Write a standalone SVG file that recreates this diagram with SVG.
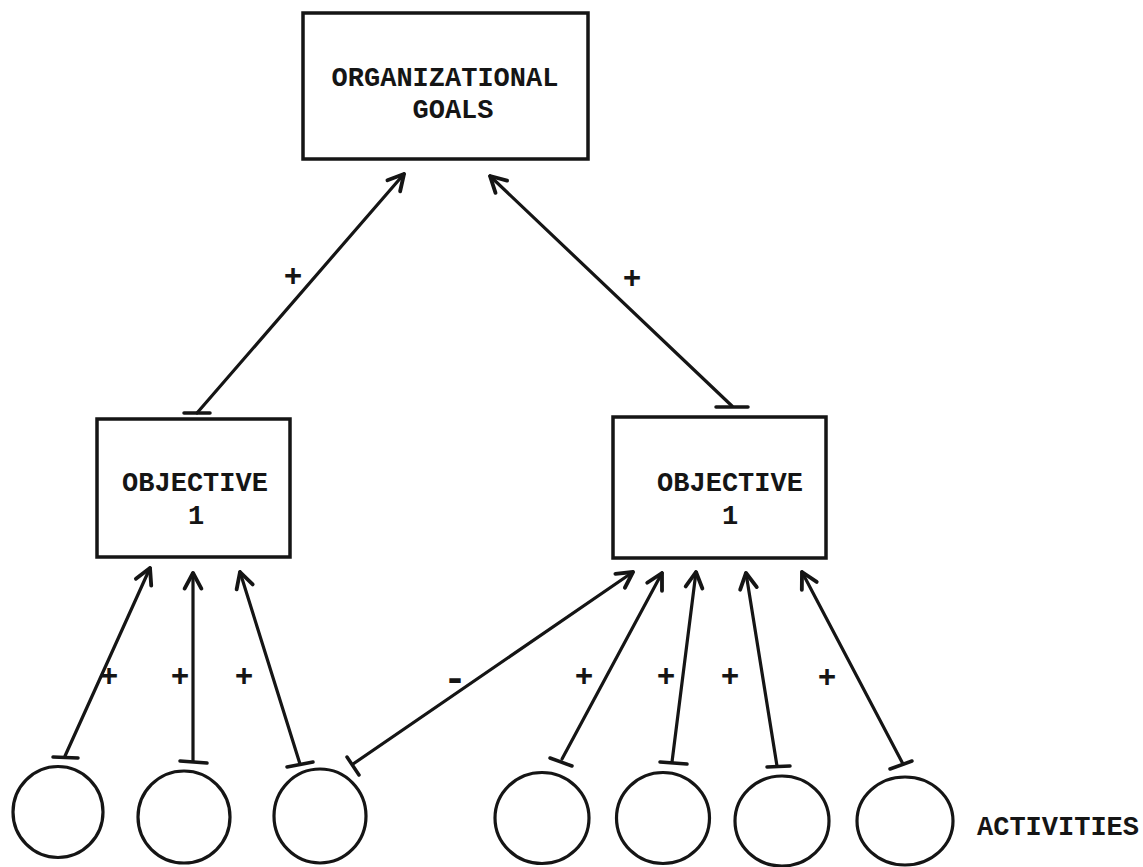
<svg xmlns="http://www.w3.org/2000/svg" width="1143" height="867" viewBox="0 0 1143 867">
  <style>
    .box { fill: none; stroke: #151515; stroke-width: 3.5; }
    .act { fill: none; stroke: #151515; stroke-width: 3.2; }
    .link { fill: none; stroke: #151515; stroke-width: 3.2; stroke-linecap: round; }
    .bar { fill: none; stroke: #151515; stroke-width: 3.5; stroke-linecap: round; }
    .lbl { font-family: "Liberation Mono", "Courier New", monospace; font-size: 27px; font-weight: bold; fill: #151515; text-anchor: middle; }
    .sign { font-family: "Liberation Mono", "Courier New", monospace; font-size: 31px; font-weight: bold; fill: #151515; text-anchor: middle; }
    .minus { font-size: 40px; }
  </style>
  <defs>
    <marker id="head" markerUnits="userSpaceOnUse" markerWidth="24" markerHeight="24" viewBox="-16 -10 20 20" refX="0" refY="0" orient="auto">
      <path d="M-13,-7 L0,0 L-13,7" fill="none" stroke="#151515" stroke-width="3.2" stroke-linecap="round" stroke-linejoin="round"/>
    </marker>
  </defs>
  <rect width="1143" height="867" fill="#ffffff"/>

  <g id="goals">
    <rect class="box" x="303" y="13" width="285" height="146"/>
    <text class="lbl" x="445" y="86">ORGANIZATIONAL</text>
    <text class="lbl" x="453" y="118">GOALS</text>
  </g>

  <g id="objective-left">
    <rect class="box" x="97" y="419" width="193" height="138"/>
    <text class="lbl" x="195" y="491">OBJECTIVE</text>
    <text class="lbl" x="196" y="524">1</text>
  </g>

  <g id="objective-right">
    <rect class="box" x="613" y="417" width="213" height="141"/>
    <text class="lbl" x="730" y="491">OBJECTIVE</text>
    <text class="lbl" x="730" y="524">1</text>
  </g>

  <g id="activity-1"><ellipse class="act" cx="58" cy="812" rx="45" ry="45.5"/></g>
  <g id="activity-2"><ellipse class="act" cx="184" cy="817" rx="46" ry="46"/></g>
  <g id="activity-3"><ellipse class="act" cx="320" cy="816" rx="46" ry="47"/></g>
  <g id="activity-4"><ellipse class="act" cx="542" cy="818" rx="47" ry="45.5"/></g>
  <g id="activity-5"><ellipse class="act" cx="663" cy="818" rx="46.5" ry="45.5"/></g>
  <g id="activity-6"><ellipse class="act" cx="782" cy="821" rx="47" ry="45"/></g>
  <g id="activity-7"><ellipse class="act" cx="905" cy="821" rx="48" ry="44"/></g>

  <g id="activities-label">
    <text class="lbl" x="1058" y="835">ACTIVITIES</text>
  </g>

  <g id="connectors">
    <!-- objectives to goals -->
    <line class="link" x1="197" y1="413" x2="404" y2="174" marker-end="url(#head)"/>
    <line class="bar" x1="184" y1="413" x2="210" y2="413"/>
    <line class="link" x1="732" y1="406" x2="490" y2="176" marker-end="url(#head)"/>
    <line class="bar" x1="716" y1="407" x2="748" y2="407"/>

    <!-- activities to left objective -->
    <line class="link" x1="65" y1="756" x2="150" y2="568" marker-end="url(#head)"/>
    <line class="bar" x1="53" y1="757" x2="78" y2="758"/>
    <line class="link" x1="193" y1="761" x2="193" y2="573" marker-end="url(#head)"/>
    <line class="bar" x1="180" y1="761" x2="207" y2="763"/>
    <line class="link" x1="300" y1="764" x2="240" y2="572" marker-end="url(#head)"/>
    <line class="bar" x1="287" y1="767" x2="313" y2="762"/>

    <!-- activities to right objective -->
    <line class="link" x1="353" y1="764" x2="633" y2="572" marker-end="url(#head)"/>
    <line class="bar" x1="347" y1="757" x2="359" y2="775"/>
    <line class="link" x1="562" y1="759" x2="662" y2="573" marker-end="url(#head)"/>
    <line class="bar" x1="550" y1="758" x2="572" y2="766"/>
    <line class="link" x1="672" y1="762" x2="696" y2="572" marker-end="url(#head)"/>
    <line class="bar" x1="660" y1="762" x2="687" y2="764"/>
    <line class="link" x1="777" y1="766" x2="746" y2="573" marker-end="url(#head)"/>
    <line class="bar" x1="767" y1="767" x2="790" y2="766"/>
    <line class="link" x1="903" y1="764" x2="802" y2="572" marker-end="url(#head)"/>
    <line class="bar" x1="890" y1="769" x2="912" y2="761"/>

    <!-- signs -->
    <text class="sign" x="293" y="286">+</text>
    <text class="sign" x="632" y="288">+</text>
    <text class="sign" x="109" y="686">+</text>
    <text class="sign" x="180" y="686">+</text>
    <text class="sign" x="244" y="686">+</text>
    <text class="sign minus" x="455" y="691">-</text>
    <text class="sign" x="584" y="686">+</text>
    <text class="sign" x="666" y="686">+</text>
    <text class="sign" x="730" y="686">+</text>
    <text class="sign" x="827" y="687">+</text>
  </g>
</svg>
